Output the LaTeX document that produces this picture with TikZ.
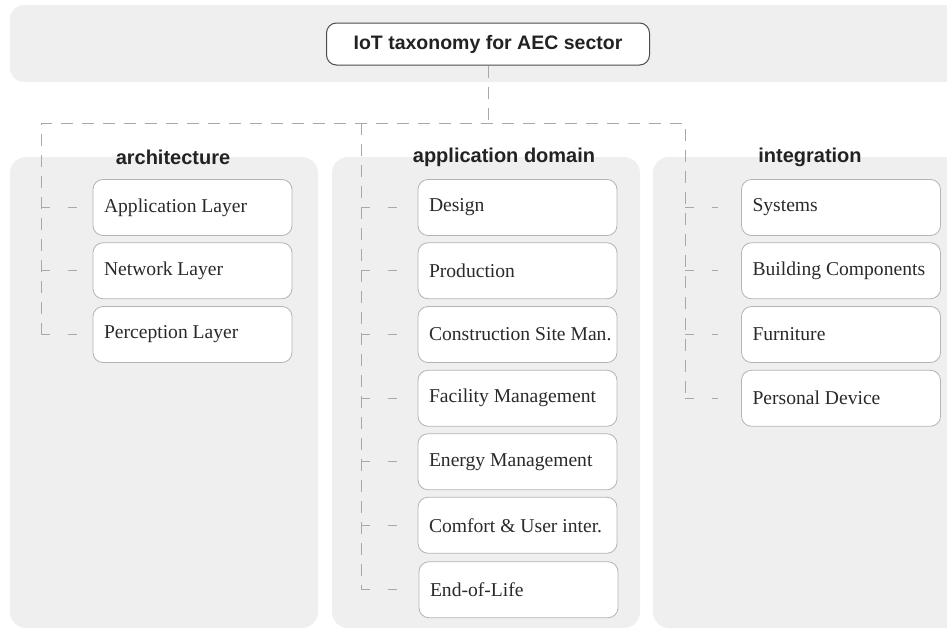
\documentclass[tikz,border=0pt]{standalone}
\usepackage{fontspec}
\setmainfont{Liberation Serif}
\setsansfont{Liberation Sans}
\definecolor{panel}{HTML}{EFEFEF}
\definecolor{boxline}{HTML}{B4B4B4}
\definecolor{dashc}{HTML}{A8A8A8}
\definecolor{txt}{HTML}{2A2A2A}
\definecolor{headc}{HTML}{222222}
\newcommand{\itemtxt}[1]{\hbox to 177pt{#1\hss}}
\begin{document}
\begin{tikzpicture}[x=1pt,y=-1pt,
  item/.style={draw=boxline, line width=0.8pt, fill=white, rounded corners=10pt,
    minimum width=199pt, minimum height=56pt, inner xsep=11pt, inner ysep=0pt,
    font=\fontsize{19.6}{22}\selectfont, text=txt},
  heading/.style={font=\sffamily\bfseries\fontsize{20}{24}\selectfont, text=headc, inner sep=0pt},
  titlebox/.style={draw=black!70, line width=1pt, fill=white, rounded corners=10pt,
    minimum width=323pt, minimum height=42pt, inner sep=0pt,
    font=\sffamily\bfseries\fontsize{19.5}{23}\selectfont, text=headc},
  tree/.style={draw=dashc, line width=0.8pt, dash pattern=on 12pt off 9pt},
  twig/.style={draw=dashc, line width=0.8pt, dash pattern=on 9pt off 18pt}]
\useasboundingbox (0,0) rectangle (947,629);
% background panels
\fill[panel, rounded corners=14pt] (10,5) rectangle (980,82);
\fill[panel, rounded corners=16pt] (10,157) rectangle (318,628);
\fill[panel, rounded corners=16pt] (332,157) rectangle (640,628);
\fill[panel, rounded corners=16pt] (653,157) rectangle (980,628);
% title
\node[titlebox] (title) at (488,44) {IoT taxonomy for AEC sector};
% headings
\node[heading] (hA) at (173,157) {architecture};
\node[heading] (hM) at (504,157) {application domain};
\node[heading] (hR) at (810,157) {integration};
% left column
\node[item] (a1) at (192.5,207.5) {\itemtxt{Application Layer}};
\node[item] (a2) at (192.5,270.75) {\itemtxt{Network Layer}};
\node[item] (a3) at (192.5,334.5) {\itemtxt{Perception Layer}};
% middle column
\node[item] (m1) at (517.5,207.5) {\itemtxt{Design}};
\node[item] (m2) at (517.5,270.75) {\itemtxt{Production}};
\node[item] (m3) at (517.5,334.5) {\itemtxt{Construction Site Man.}};
\node[item] (m4) at (517.5,398.25) {\itemtxt{Facility Management}};
\node[item] (m5) at (517.5,461.75) {\itemtxt{Energy Management}};
\node[item] (m6) at (517.5,525.25) {\itemtxt{Comfort \& User inter.}};
\node[item] (m7) at (518.5,589.75) {\itemtxt{End-of-Life}};
% right column
\node[item] (r1) at (841,207.5) {\itemtxt{Systems}};
\node[item] (r2) at (841,270.75) {\itemtxt{Building Components}};
\node[item] (r3) at (841,334.5) {\itemtxt{Furniture}};
\node[item] (r4) at (841,398.25) {\itemtxt{Personal Device}};
% tree
\coordinate (jL) at (41,123);
\coordinate (jM) at (361,123);
\coordinate (jR) at (685,123);
\draw[tree] (title.south) -- (title.south |- jL);
\draw[tree] (jL |- a3.west) -- (jL) -- (jR) -- (jR |- r4.west);
\draw[tree] (jM) -- (jM |- m7.west);
% twigs
\foreach \n in {a1,a2,a3}
  \draw[twig] (jL |- \n.west) -- ([xshift=-16pt]\n.west);
\foreach \n in {m1,m2,m3,m4,m5,m6}
  \draw[twig] (jM |- \n.west) -- ([xshift=-21pt]\n.west);
\draw[twig] (jM |- m7.west) -- ([xshift=-22pt]m7.west);
\foreach \n in {r1,r2,r3,r4}
  \draw[twig] (jR |- \n.west) -- ([xshift=-23pt]\n.west);
\end{tikzpicture}
\end{document}
